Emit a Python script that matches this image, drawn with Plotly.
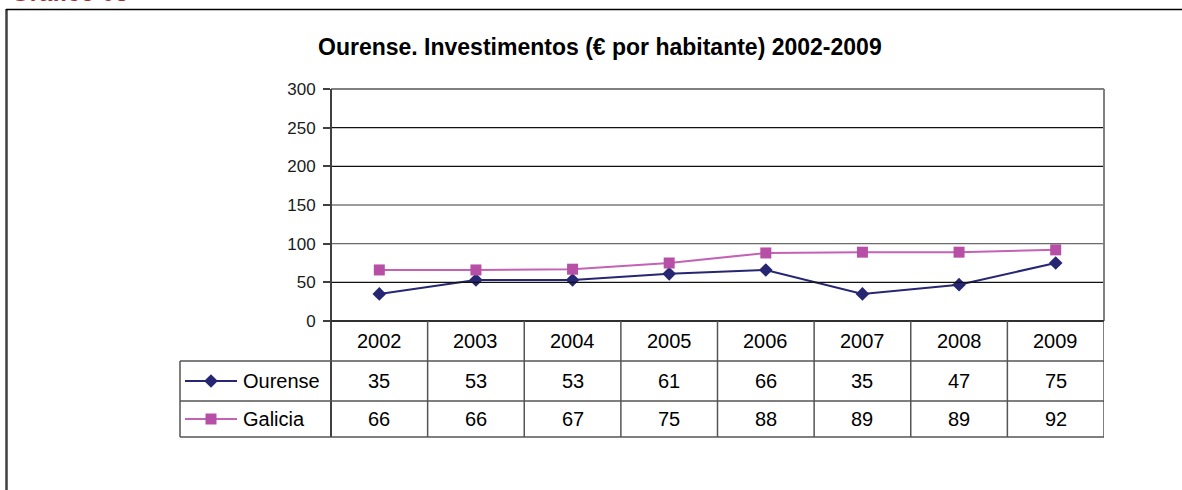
import plotly.graph_objects as go

W, H = 1182, 490
OFF = 0  # page body margin removed via post_script

years = ["2002", "2003", "2004", "2005", "2006", "2007", "2008", "2009"]
ourense = [35, 53, 53, 61, 66, 35, 47, 75]
galicia = [66, 66, 67, 75, 88, 89, 89, 92]
series_names = ["Ourense", "Galicia"]
yticks = [0, 50, 100, 150, 200, 250, 300]

title = "Ourense. Investimentos (€ por habitante) 2002-2009"
caption = "Gráfico 08"

FONT = "Liberation Sans, Arial, sans-serif"
NAVY = "#262673"
MAG = "#B84FA6"
MAG_LINE = "#C462B5"

# layout geometry in screen pixels
PL, PR, PT, PB = 331, 1104, 89, 321
ROWS = [321, 361, 401, 437]
TL = 180


def fx(x):
    return (x - OFF) / W


def fy(y):
    return 1 - (y - OFF) / H


xs = list(range(len(years)))

fig = go.Figure()
fig.add_trace(go.Scatter(x=xs, y=ourense, mode="lines+markers", name=series_names[0],
                         line=dict(color=NAVY, width=2),
                         marker=dict(symbol="diamond", size=10.5, color=NAVY),
                         cliponaxis=False, showlegend=False))
fig.add_trace(go.Scatter(x=xs, y=galicia, mode="lines+markers", name=series_names[1],
                         line=dict(color=MAG_LINE, width=2),
                         marker=dict(symbol="square", size=11, color=MAG),
                         cliponaxis=False, showlegend=False))

# legend keys inside the table (screen-pixel overlay axes)
key_y = [(ROWS[1] + ROWS[2]) / 2, (ROWS[2] + ROWS[3]) / 2]
fig.add_trace(go.Scatter(x=[185, 237], y=[key_y[0]] * 2, mode="lines", line=dict(color=NAVY, width=2),
                         xaxis="x2", yaxis="y2", showlegend=False, hoverinfo="skip"))
fig.add_trace(go.Scatter(x=[211], y=[key_y[0]], mode="markers",
                         marker=dict(symbol="diamond", size=10.5, color=NAVY),
                         xaxis="x2", yaxis="y2", showlegend=False, hoverinfo="skip"))
fig.add_trace(go.Scatter(x=[185, 237], y=[key_y[1]] * 2, mode="lines", line=dict(color=MAG_LINE, width=2),
                         xaxis="x2", yaxis="y2", showlegend=False, hoverinfo="skip"))
fig.add_trace(go.Scatter(x=[211], y=[key_y[1]], mode="markers",
                         marker=dict(symbol="square", size=11, color=MAG),
                         xaxis="x2", yaxis="y2", showlegend=False, hoverinfo="skip"))

shapes = []


def hline(x0, x1, y, color, width):
    shapes.append(dict(type="line", xref="x2", yref="y2", x0=x0, x1=x1, y0=y, y1=y,
                       line=dict(color=color, width=width)))


def vline(x, y0, y1, color, width):
    shapes.append(dict(type="line", xref="x2", yref="y2", x0=x, x1=x, y0=y0, y1=y1,
                       line=dict(color=color, width=width)))


# outer frame
vline(6.5, 9, 500, "#404040", 2.5)
hline(6, 1195, 9.5, "#000000", 1.5)
# gridlines (data values on main y axis)
grid_colors = {50: "#111111", 100: "#6a6a6a", 150: "#3a3a3a", 200: "#111111", 250: "#111111"}
for v in yticks[1:-1]:
    shapes.append(dict(type="line", xref="paper", yref="y", x0=fx(PL), x1=fx(PR), y0=v, y1=v,
                       line=dict(color=grid_colors[v], width=1.2)))
# plot border
hline(PL, PR, PT, "#808080", 2)
vline(PR, PT, PB, "#808080", 2)
vline(PL, PT, ROWS[3], "#404040", 2)
# table lines
hline(PL, PR, ROWS[0], "#303030", 2)
for r in ROWS[1:]:
    hline(TL, PR, r, "#555555", 1.5)
vline(TL, ROWS[1], ROWS[3], "#555555", 1.5)
for i in range(1, len(years) + 1):
    shapes.append(dict(type="line", xref="x", yref="y2", x0=i - 0.5, x1=i - 0.5, y0=ROWS[0], y1=ROWS[3],
                       line=dict(color="#555555", width=1.5)))

annotations = []
annotations.append(dict(text="<b>" + title + "</b>", xref="x2", yref="y2", x=600, y=47, showarrow=False,
                        font=dict(family=FONT, size=23, color="#000"), xanchor="center", yanchor="middle"))
annotations.append(dict(text="<b>" + caption + "</b>", xref="x2", yref="y2", x=9, y=8, showarrow=False,
                        font=dict(family=FONT, size=24, color="#A0302C"), xanchor="left", yanchor="bottom"))
row_centers = [(ROWS[0] + ROWS[1]) / 2, key_y[0], key_y[1]]
for i, yr in enumerate(years):
    for txt, yc in zip([yr, str(ourense[i]), str(galicia[i])], row_centers):
        annotations.append(dict(text=txt, xref="x", yref="y2", x=i, y=yc, showarrow=False,
                                font=dict(family=FONT, size=20, color="#000"),
                                xanchor="center", yanchor="middle"))
for name, yy in zip(series_names, key_y):
    annotations.append(dict(text=name, xref="x2", yref="y2", x=241, y=yy, showarrow=False,
                            font=dict(family=FONT, size=20, color="#000"), xanchor="left", yanchor="middle"))

fig.update_layout(
    width=W, height=H,
    margin=dict(l=0, r=0, t=0, b=0, autoexpand=False),
    paper_bgcolor="white", plot_bgcolor="rgba(0,0,0,0)",
    xaxis=dict(domain=[fx(PL), fx(PR)], range=[-0.5, len(years) - 0.5], showgrid=False, zeroline=False,
               showticklabels=False, ticks="", showline=False, anchor="y", automargin=False),
    yaxis=dict(domain=[fy(PB), fy(PT)], range=[0, 300], tickvals=yticks, ticktext=[str(v) for v in yticks],
               ticks="outside", ticklen=7, tickwidth=1.5, tickcolor="#404040", showgrid=False, zeroline=False,
               showline=False, tickfont=dict(family=FONT, size=17, color="#1a1a1a"), anchor="x",
               automargin=False, ticklabelstandoff=4),
    xaxis2=dict(domain=[0, 1], range=[OFF, W + OFF], visible=False, anchor="y2", automargin=False),
    yaxis2=dict(domain=[0, 1], range=[H + OFF, OFF], visible=False, anchor="x2", automargin=False),
    shapes=shapes, annotations=annotations,
    showlegend=False,
)

fig.write_html("out.html", config={"displayModeBar": False},
               post_script="document.body.style.margin='0px';")
